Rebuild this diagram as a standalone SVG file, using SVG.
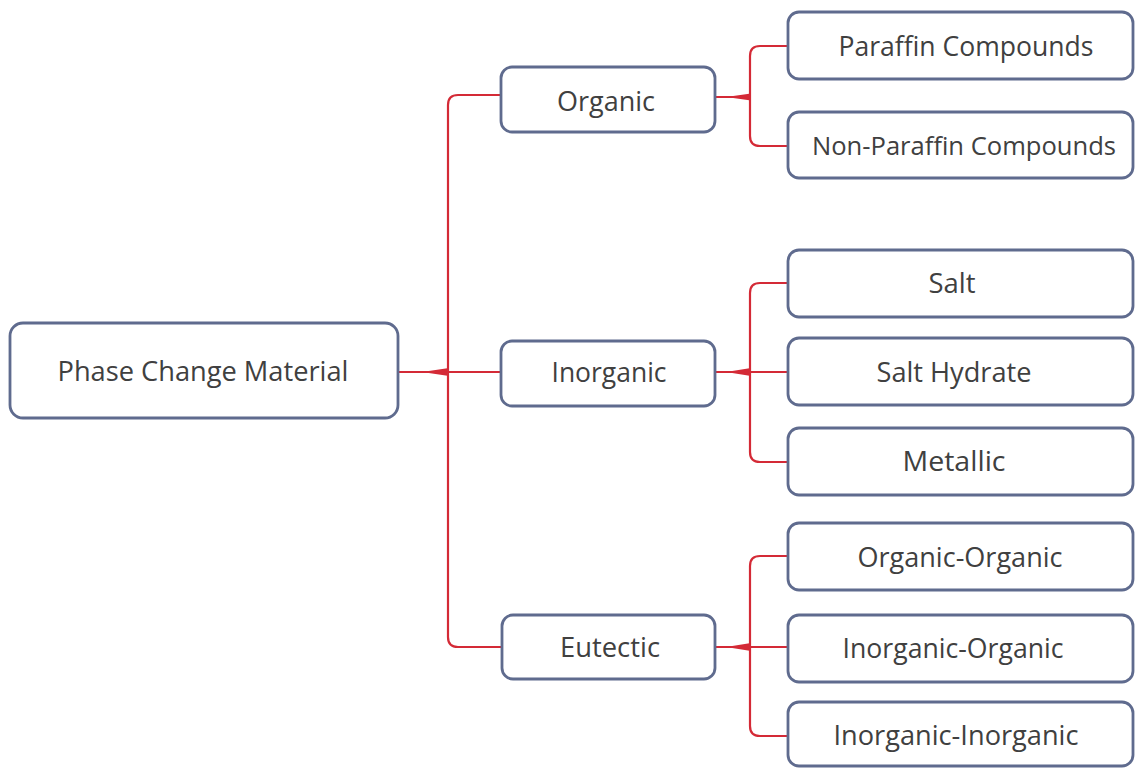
<svg xmlns="http://www.w3.org/2000/svg" width="1135" height="768" viewBox="0 0 1135 768">
<style>
.box{fill:#ffffff;stroke:#5f6b8e;stroke-width:2.8}
.t{font-family:"Open Sans","Liberation Sans",sans-serif;font-size:28px;fill:#404040;text-anchor:middle}
.c{fill:none;stroke:#d42a36;stroke-width:2.2}
.j{fill:#d42a36}
</style>
<rect width="1135" height="768" fill="#ffffff"/>
<g id="connectors">
<path class="c" d="M501,95 H458 Q448,95 448,105 V637 Q448,647 458,647 H502"/>
<path class="c" d="M398,372 H500"/>
<polygon class="j" points="422,372 449,368 449,376"/>
<path class="c" d="M715,97 H750"/>
<path class="c" d="M788,46 H760 Q750,46 750,56 V136 Q750,146 760,146 H788"/>
<polygon class="j" points="726,97 751,93.5 751,100.5"/>
<path class="c" d="M715,372 H788"/>
<path class="c" d="M788,283 H760 Q750,283 750,293 V452 Q750,462 760,462 H788"/>
<polygon class="j" points="726,372 751,368 751,376"/>
<path class="c" d="M715,647 H788"/>
<path class="c" d="M788,556 H760 Q750,556 750,566 V726 Q750,736 760,736 H788"/>
<polygon class="j" points="726,647 751,643 751,651"/>
</g>
<g id="root"><rect class="box" x="10" y="323" width="388" height="95" rx="13"/><text class="t" x="203" y="381" textLength="291" lengthAdjust="spacingAndGlyphs">Phase Change Material</text></g>
<g id="organic"><rect class="box" x="501" y="67" width="214" height="65" rx="11"/><text class="t" x="606" y="111" textLength="98" lengthAdjust="spacingAndGlyphs">Organic</text></g>
<g id="inorganic"><rect class="box" x="501" y="341" width="214" height="65" rx="11"/><text class="t" x="609" y="382" textLength="115" lengthAdjust="spacingAndGlyphs">Inorganic</text></g>
<g id="eutectic"><rect class="box" x="502" y="615" width="213" height="64" rx="11"/><text class="t" x="610" y="657" textLength="100" lengthAdjust="spacingAndGlyphs">Eutectic</text></g>
<g id="paraffin"><rect class="box" x="788" y="12" width="345" height="67" rx="11"/><text class="t" x="966" y="56" textLength="255" lengthAdjust="spacingAndGlyphs">Paraffin Compounds</text></g>
<g id="nonparaffin"><rect class="box" x="788" y="112" width="345" height="66" rx="11"/><text class="t" x="964" y="155" style="font-size:26px" textLength="304" lengthAdjust="spacingAndGlyphs">Non-Paraffin Compounds</text></g>
<g id="salt"><rect class="box" x="788" y="250" width="345" height="67" rx="11"/><text class="t" x="952" y="293" textLength="47" lengthAdjust="spacingAndGlyphs">Salt</text></g>
<g id="salthydrate"><rect class="box" x="788" y="338" width="345" height="67" rx="11"/><text class="t" x="954" y="382" textLength="155" lengthAdjust="spacingAndGlyphs">Salt Hydrate</text></g>
<g id="metallic"><rect class="box" x="788" y="428" width="345" height="67" rx="11"/><text class="t" x="954" y="471" textLength="103" lengthAdjust="spacingAndGlyphs">Metallic</text></g>
<g id="orgorg"><rect class="box" x="788" y="523" width="345" height="67" rx="11"/><text class="t" x="960" y="567" textLength="205" lengthAdjust="spacingAndGlyphs">Organic-Organic</text></g>
<g id="inorgorg"><rect class="box" x="788" y="615" width="345" height="67" rx="11"/><text class="t" x="953" y="658" textLength="221" lengthAdjust="spacingAndGlyphs">Inorganic-Organic</text></g>
<g id="inorginorg"><rect class="box" x="788" y="702" width="345" height="64" rx="11"/><text class="t" x="956" y="745" textLength="245" lengthAdjust="spacingAndGlyphs">Inorganic-Inorganic</text></g>
</svg>
